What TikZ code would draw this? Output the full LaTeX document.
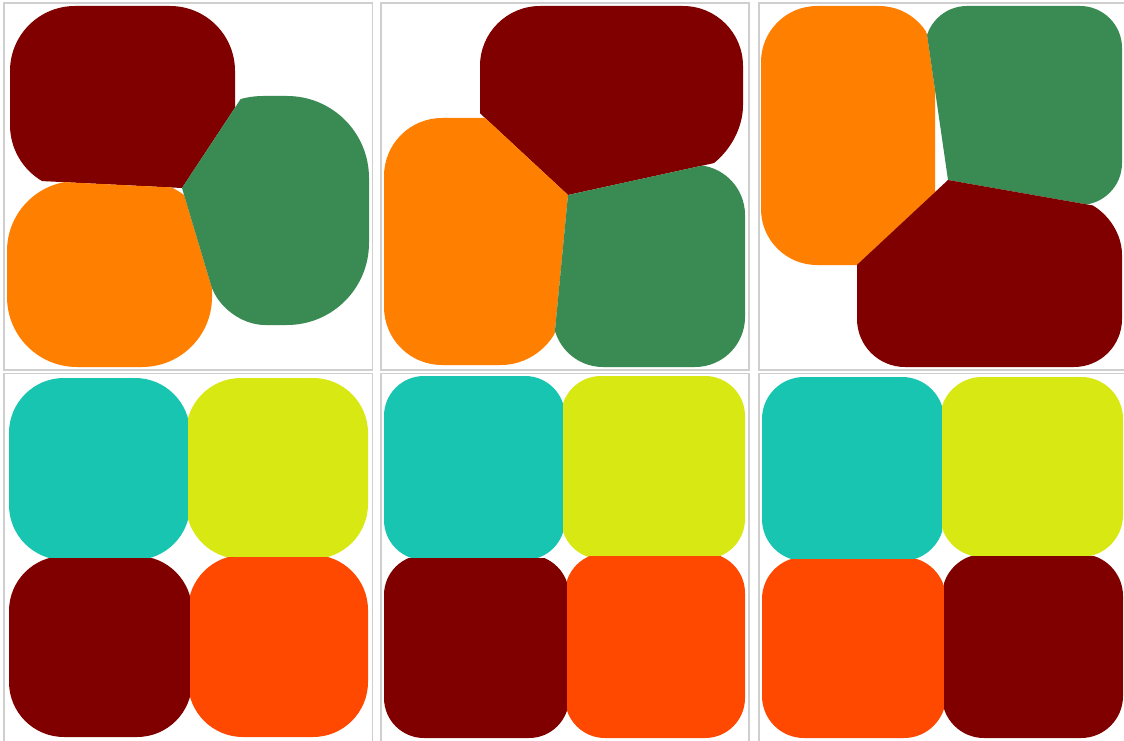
\documentclass[tikz,border=0pt]{standalone}
\definecolor{blobred}{HTML}{800000}
\definecolor{bloborange}{HTML}{FF7F00}
\definecolor{blobgreen}{HTML}{3A8A54}
\definecolor{blobcyan}{HTML}{17C5B1}
\definecolor{blobyellow}{HTML}{D8E812}
\definecolor{blobfire}{HTML}{FF4800}
\definecolor{framegray}{HTML}{CFCFCF}
\newcommand\myblob[5]{\begin{scope}\clip #2; \fill[#1, rounded corners=#5] #3 rectangle #4; \end{scope}}
\begin{document}
\begin{tikzpicture}[x=1pt,y=-1pt, panelframe/.style={draw=framegray, line width=1.2pt}]
\useasboundingbox (0,0) rectangle (1124,741);
\clip (0,0) rectangle (1124,741);
\fill[white] (0,0) rectangle (1124,741);
% frames
\draw[panelframe] (4,3) rectangle (372.5,370);
\draw[panelframe] (381,3) rectangle (749,370);
\draw[panelframe] (1130,3) -- (759,3) -- (759,370) -- (1130,370);
\draw[panelframe] (4,750) -- (4,373.5) -- (372.5,373.5) -- (372.5,750);
\draw[panelframe] (381,750) -- (381,373.5) -- (749,373.5) -- (749,750);
\draw[panelframe] (759,750) -- (759,373.5) -- (1130,373.5);
% ---------- panel 1
\myblob{blobred}{(0,0)--(306,0)--(182,188)--(0,179)--cycle}{(10,6)}{(235,190)}{65pt}
\myblob{bloborange}{(0,179)--(182,188)--(237,372)--(0,372)--cycle}{(7,181)}{(212,367)}{70pt}
\begin{scope}
\clip (306,0)--(380,0)--(380,372)--(237,372)--(182,188)--cycle;
\clip[rounded corners=82pt] (181,96) rectangle (369,325);
\fill[blobgreen, rounded corners=42pt] (143,60)--(400,60)--(400,325)--(223,325)--cycle;
\end{scope}
% ---------- panel 2
\begin{scope}
\clip (358,0)--(760,0)--(760,153)--(568,195)--cycle;
\fill[blobred, rounded corners=60pt] (480,6)--(743,6)--(743,165)--(480,222)--cycle;
\end{scope}
\begin{scope}
\clip (358,0)--(568,195)--(551,372)--(358,372)--cycle;
\fill[bloborange, rounded corners=58pt] (384,118)--(576,118)--(559,365)--(384,365)--cycle;
\end{scope}
\myblob{blobgreen}{(568,195)--(760,153)--(760,372)--(551,372)--cycle}{(553,165)}{(745,367)}{50pt}
% ---------- panel 3
\myblob{bloborange}{(742,0)--(922,0)--(948,180)--(742,372)--cycle}{(761,6)}{(935,265)}{56pt}
\myblob{blobgreen}{(922,0)--(1130,0)--(1130,212)--(948,180)--cycle}{(925,6)}{(1122,205)}{42pt}
\begin{scope}
\clip (948,180)--(1130,212)--(1130,372)--(742,372)--cycle;
\fill[blobred, rounded corners=48pt] (857,160) -- (1122,207) -- (1122,367) -- (857,367) -- cycle;
\end{scope}
% ---------- panel 4
\myblob{blobcyan}{(0,372)rectangle(188,558)}{(9,378)}{(190,560)}{55pt}
\myblob{blobyellow}{(188,372)rectangle(380,557)}{(186,378)}{(368,559)}{55pt}
\myblob{blobred}{(0,558)rectangle(190,745)}{(9,556)}{(192,737)}{55pt}
\myblob{blobfire}{(190,557)rectangle(380,745)}{(188,555)}{(368,737)}{55pt}
% ---------- panel 5
\myblob{blobcyan}{(375,372)rectangle(563,558)}{(384,376)}{(565,560)}{40pt}
\myblob{blobyellow}{(563,372)rectangle(755,557)}{(561,376)}{(745,559)}{40pt}
\myblob{blobred}{(375,558)rectangle(567,745)}{(384,555)}{(569,738)}{40pt}
\myblob{blobfire}{(567,556)rectangle(755,745)}{(565,553)}{(745,738)}{40pt}
% ---------- panel 6
\myblob{blobcyan}{(752,372)rectangle(942,559)}{(762,377)}{(944,561)}{42pt}
\myblob{blobyellow}{(942,372)rectangle(1130,556)}{(940,377)}{(1123,557)}{42pt}
\myblob{blobfire}{(752,559)rectangle(944,745)}{(762,557)}{(946,738)}{42pt}
\myblob{blobred}{(944,556)rectangle(1130,745)}{(942,554)}{(1123,738)}{42pt}
\end{tikzpicture}
\end{document}
